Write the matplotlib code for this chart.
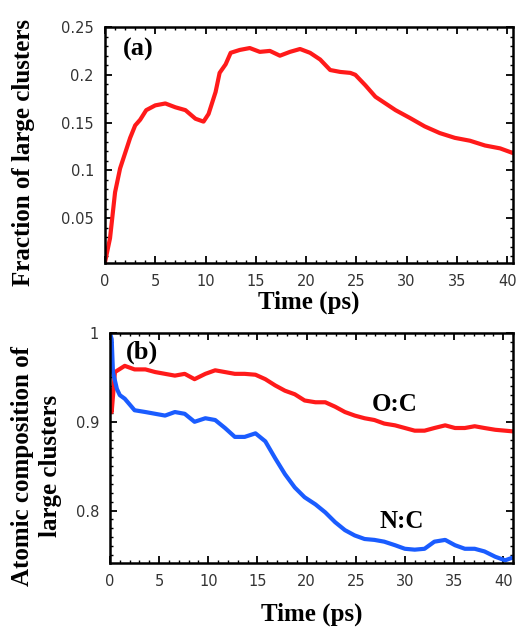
import numpy as np
import matplotlib
matplotlib.use('Agg')
import matplotlib.pyplot as plt
from matplotlib.ticker import MultipleLocator

# (a) fraction of large clusters
t_a = [0, 0.5, 1.0, 1.5, 2.0, 2.5, 3.0, 3.5, 4.1, 5.0, 6.0, 7.0, 8.0, 9.0, 9.8, 10.3,
       11.0, 11.4, 12.0, 12.5, 13.4, 14.4, 15.4, 16.4, 17.4, 18.4, 19.4, 20.4, 21.4,
       22.4, 23.4, 24.4, 24.9, 25.9, 26.9, 27.9, 28.9, 30.3, 31.8, 33.3, 34.8, 36.3,
       37.8, 39.3, 40.6]
frac = [0.004, 0.029, 0.077, 0.102, 0.118, 0.134, 0.147, 0.153, 0.163, 0.168, 0.170,
        0.166, 0.163, 0.154, 0.151, 0.159, 0.182, 0.202, 0.211, 0.223, 0.226, 0.228,
        0.224, 0.225, 0.220, 0.224, 0.227, 0.223, 0.216, 0.205, 0.203, 0.202, 0.200,
        0.189, 0.177, 0.170, 0.163, 0.155, 0.146, 0.139, 0.134, 0.131, 0.126, 0.123,
        0.118]

# (b) atomic composition of large clusters
t_oc = [0, 0.17, 0.5, 1.5, 2.5, 3.6, 4.6, 5.6, 6.6, 7.6, 8.6, 9.7, 10.7, 11.7, 12.7,
        13.7, 14.8, 15.8, 16.8, 17.8, 18.8, 19.8, 20.9, 21.9, 22.9, 23.9, 24.9, 25.9,
        26.9, 27.9, 29.0, 30.0, 31.0, 32.0, 33.0, 34.1, 35.1, 36.1, 37.1, 38.1, 39.2,
        41.2]
oc = [0.935, 0.911, 0.956, 0.963, 0.959, 0.959, 0.956, 0.954, 0.952, 0.954, 0.948,
      0.954, 0.958, 0.956, 0.954, 0.954, 0.953, 0.948, 0.941, 0.935, 0.931, 0.924,
      0.922, 0.922, 0.917, 0.911, 0.907, 0.904, 0.902, 0.898, 0.896, 0.893, 0.890,
      0.890, 0.893, 0.896, 0.893, 0.893, 0.895, 0.893, 0.891, 0.889]
t_nc = [0, 0.17, 0.3, 0.7, 1.0, 1.5, 2.5, 3.6, 4.6, 5.6, 6.6, 7.6, 8.6, 9.7, 10.7,
        11.7, 12.7, 13.7, 14.8, 15.8, 16.8, 17.8, 18.8, 19.8, 20.9, 21.9, 22.9, 23.9,
        24.9, 25.9, 26.9, 27.9, 29.0, 30.0, 31.0, 32.0, 33.0, 34.1, 35.1, 36.1, 37.1,
        38.1, 39.2, 40.2, 41.2]
nc = [1.0, 0.993, 0.956, 0.937, 0.930, 0.926, 0.913, 0.911, 0.909, 0.907, 0.911,
      0.909, 0.900, 0.904, 0.902, 0.893, 0.883, 0.883, 0.887, 0.878, 0.859, 0.841,
      0.826, 0.815, 0.807, 0.798, 0.787, 0.778, 0.772, 0.768, 0.767, 0.765, 0.761,
      0.757, 0.756, 0.757, 0.765, 0.767, 0.761, 0.757, 0.757, 0.754, 0.748, 0.744,
      0.748]

fig = plt.figure(figsize=(5.16, 6.27), dpi=100)
ax1 = fig.add_axes([0.2035, 0.5805, 0.791, 0.3764])
ax2 = fig.add_axes([0.2132, 0.1021, 0.781, 0.3668])

serif = 'Liberation Serif'
lab = dict(family=serif, fontweight='bold', fontsize=18)

ax1.plot(t_a, frac, color='#ff1a1a', lw=3)
ax1.set_xlim(0, 40.6)
ax1.set_ylim(0.003, 0.25)
ax1.xaxis.set_major_locator(MultipleLocator(5))
ax1.xaxis.set_minor_locator(MultipleLocator(1))
ax1.yaxis.set_minor_locator(MultipleLocator(0.01))
ax1.set_yticks([0.05, 0.1, 0.15, 0.2, 0.25])
ax1.set_yticklabels(['0.05', '0.1', '0.15', '0.2', '0.25'])
ax1.set_xlabel('Time (ps)', labelpad=1, **lab)
ax1.set_ylabel('Fraction of large clusters', **lab)
ax1.yaxis.set_label_coords(-0.172, 0.47)
ax1.text(0.043, 0.955, '(a)', transform=ax1.transAxes, va='top', ha='left',
         family=serif, fontweight='bold', fontsize=19)

ax2.plot(t_oc, oc, color='#ff1a1a', lw=3)
ax2.plot(t_nc, nc, color='#1a5cff', lw=3)
ax2.set_xlim(0, 41)
ax2.set_ylim(0.741, 1.0)
ax2.xaxis.set_major_locator(MultipleLocator(5))
ax2.xaxis.set_minor_locator(MultipleLocator(1))
ax2.set_yticks([0.8, 0.9, 1.0])
ax2.set_yticklabels(['0.8', '0.9', '1'])
ax2.yaxis.set_minor_locator(MultipleLocator(0.01))
ax2.set_xlabel('Time (ps)', labelpad=10, **lab)
ax2.set_ylabel('Atomic composition of\nlarge clusters', linespacing=1.28, **lab)
ax2.yaxis.set_label_coords(-0.12, 0.42)
ax2.text(0.04, 0.965, '(b)', transform=ax2.transAxes, va='top', ha='left',
         family=serif, fontweight='bold', fontsize=19)
ax2.text(26.6, 0.919, 'O:C', va='center', family=serif, fontweight='bold', fontsize=18)
ax2.text(27.4, 0.788, 'N:C', va='center', family=serif, fontweight='bold', fontsize=18)

for ax in (ax1, ax2):
    for s in ax.spines.values():
        s.set_linewidth(1.8)
    ax.tick_params(which='both', direction='in', top=True, right=True)
    ax.tick_params(which='major', length=5, width=1.3, pad=8, labelcolor='#333333')
    ax.tick_params(which='minor', length=2.5, width=1)
    for lbl in ax.get_xticklabels() + ax.get_yticklabels():
        lbl.set_fontfamily('DejaVu Sans')
        lbl.set_fontsize(10.5)

fig.savefig('out.png', dpi=100)
